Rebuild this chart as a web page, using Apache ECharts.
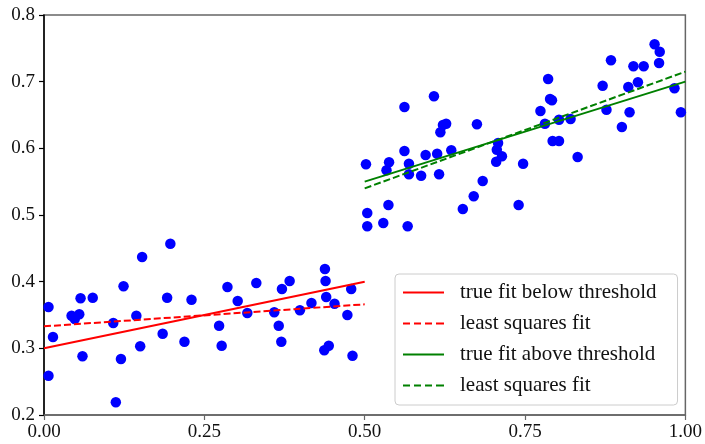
<!DOCTYPE html>
<html>
<head>
<meta charset="utf-8">
<script src="https://cdn.jsdelivr.net/npm/echarts@6/dist/echarts.min.js"></script>
<style>html,body{margin:0;padding:0;background:#fff}#c{width:705px;height:444px}</style>
</head>
<body>
<div id="c"></div>
<script>
// Observations below threshold (x, y)
const belowX = [0.007,0.014,0.007,0.043,0.048,0.055,0.057,0.060,0.076,0.108,0.112,0.120,0.124,0.144,0.153,0.150,0.185,0.192,0.197,0.219,0.230,0.273,0.277,0.286,0.302,0.317,0.331,0.359,0.366,0.370,0.371,0.383,0.399,0.417,0.438,0.439,0.440,0.437,0.444,0.453,0.473,0.479,0.481];
const belowY = [0.362,0.317,0.259,0.349,0.344,0.351,0.375,0.288,0.376,0.338,0.219,0.284,0.393,0.349,0.437,0.303,0.322,0.376,0.457,0.310,0.373,0.334,0.304,0.392,0.371,0.353,0.398,0.354,0.334,0.310,0.389,0.401,0.357,0.368,0.419,0.401,0.377,0.297,0.304,0.367,0.350,0.389,0.289];
// Observations above threshold (x, y)
const aboveX = [0.502,0.504,0.504,0.529,0.537,0.534,0.538,0.562,0.562,0.567,0.569,0.569,0.588,0.595,0.608,0.613,0.616,0.618,0.622,0.627,0.635,0.653,0.670,0.675,0.684,0.705,0.706,0.708,0.714,0.740,0.747,0.774,0.781,0.786,0.789,0.792,0.793,0.803,0.803,0.821,0.832,0.871,0.877,0.884,0.901,0.911,0.913,0.919,0.926,0.935,0.952,0.960,0.959,0.983,0.993];
const aboveY = [0.576,0.503,0.483,0.488,0.515,0.567,0.579,0.662,0.596,0.483,0.577,0.561,0.559,0.590,0.678,0.592,0.561,0.624,0.635,0.637,0.597,0.509,0.528,0.636,0.551,0.580,0.598,0.608,0.588,0.515,0.577,0.656,0.637,0.704,0.674,0.672,0.611,0.611,0.643,0.644,0.587,0.694,0.658,0.732,0.632,0.692,0.654,0.723,0.699,0.723,0.756,0.745,0.728,0.690,0.654];
// Fit lines: [x, y] endpoints
const trueBelowX = [0, 0.5], trueBelowY = [0.300, 0.400];
const lsBelowX = [0, 0.5], lsBelowY = [0.333, 0.366];
const trueAboveX = [0.5, 1.0], trueAboveY = [0.550, 0.700];
const lsAboveX = [0.5, 1.0], lsAboveY = [0.540, 0.715];
const xTicks = [0, 0.25, 0.5, 0.75, 1.0];
const yTicks = [0.2, 0.3, 0.4, 0.5, 0.6, 0.7, 0.8];
const legendNames = ['true fit below threshold', 'least squares fit', 'true fit above threshold', 'least squares fit '];

const zip = (xs, ys) => xs.map((x, i) => [x, ys[i]]);
const FONT = '"Liberation Serif", serif';
const SOLID_ICON = 'path://M0,0H41V2H0Z';
const DASH_ICON = 'path://M0,0H7V2H0Z M11,0H18V2H11Z M22,0H29V2H22Z M33,0H41V2H33Z';

const chart = echarts.init(document.getElementById('c'), null, {renderer: 'canvas'});
const lineSeries = (name, xs, ys, color, dashed) => ({
  name, type: 'line', data: zip(xs, ys), showSymbol: false, symbol: 'none',
  lineStyle: {color, width: 2, type: dashed ? [7, 3] : 'solid'},
  itemStyle: {color}, z: 3, animation: false
});
chart.setOption({
  animation: false,
  grid: {left: 44, right: 19, top: 15, bottom: 29, show: true, borderColor: '#666', borderWidth: 1.5, backgroundColor: 'transparent'},
  xAxis: {
    type: 'value', min: 0, max: 1, interval: 0.25,
    axisLine: {show: true, lineStyle: {color: '#666', width: 1.5}},
    axisTick: {show: true, length: 5, lineStyle: {color: '#666', width: 1.2}},
    splitLine: {show: false},
    axisLabel: {color: '#111', fontFamily: FONT, fontSize: 19, margin: 8,
      formatter: v => v.toFixed(2)}
  },
  yAxis: {
    type: 'value', min: 0.2, max: 0.8, interval: 0.1,
    axisLine: {show: true, lineStyle: {color: '#000', width: 1.5}},
    axisTick: {show: true, length: 5, lineStyle: {color: '#000', width: 1.2}},
    splitLine: {show: false},
    axisLabel: {color: '#111', fontFamily: FONT, fontSize: 19, margin: 9,
      formatter: v => v.toFixed(1)}
  },
  legend: {
    show: true,
    orient: 'vertical', left: 395, top: 274,
    data: legendNames.map((n, i) => ({name: n, icon: i % 2 ? DASH_ICON : SOLID_ICON})),
    itemWidth: 41, itemHeight: 2, itemGap: 10,
    padding: [8, 21, 9, 8],
    backgroundColor: '#fff', borderColor: '#ccc', borderWidth: 1, borderRadius: 4,
    textStyle: {fontFamily: FONT, fontSize: 21, color: '#111', padding: [0, 0, 0, 11]},
    z: 10
  },
  series: [
    {name: 'below', type: 'scatter', data: zip(belowX, belowY), symbolSize: 10.5, itemStyle: {color: '#0000ff', opacity: 1}, z: 2},
    {name: 'above', type: 'scatter', data: zip(aboveX, aboveY), symbolSize: 10.5, itemStyle: {color: '#0000ff', opacity: 1}, z: 2},
    lineSeries(legendNames[0], trueBelowX, trueBelowY, '#ff0000', false),
    lineSeries(legendNames[1], lsBelowX, lsBelowY, '#ff0000', true),
    lineSeries(legendNames[2], trueAboveX, trueAboveY, '#008000', false),
    lineSeries(legendNames[3], lsAboveX, lsAboveY, '#008000', true)
  ]
});
</script>
</body>
</html>
